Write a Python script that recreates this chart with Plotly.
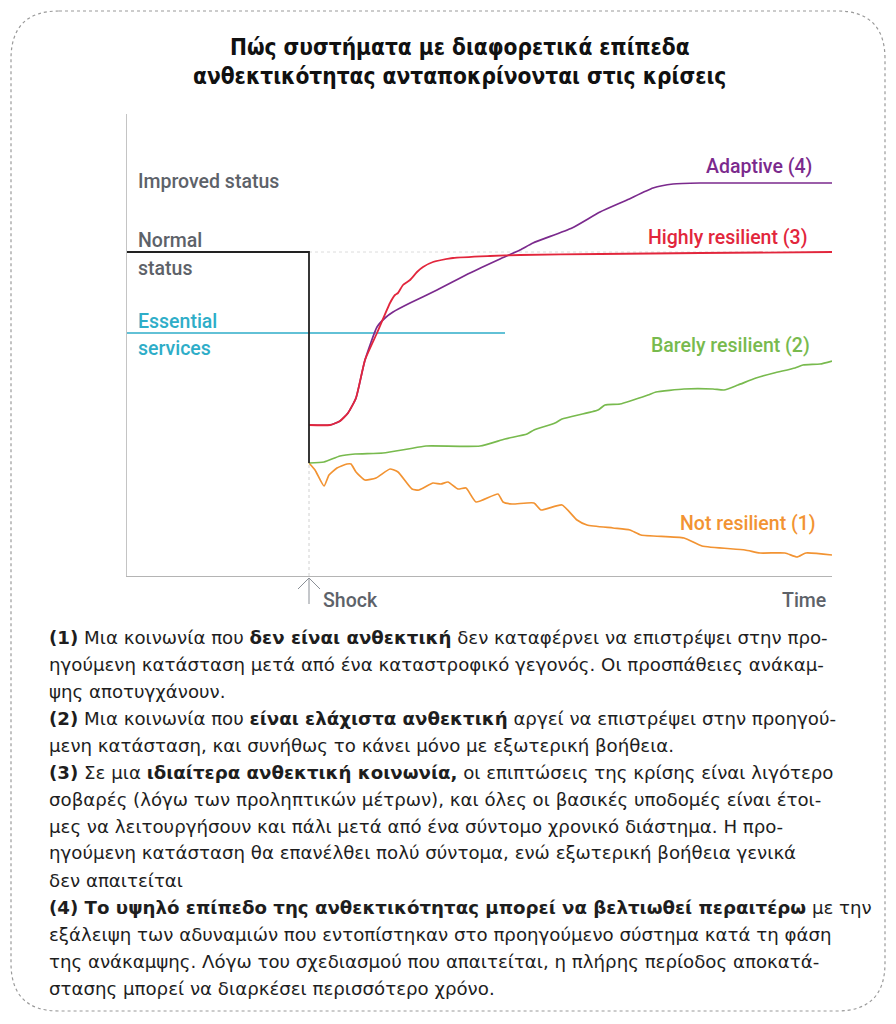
import plotly.graph_objects as go

# ---------------- data (arbitrary time / level units) ----------------
shock_t = 182
normal_level = 324
essential_level = 243
essential_end_t = 378
time_max = 705
level_max = 462

normal_t = [0, 182, 182]
normal_y = [324, 324, 113]

essential_t = [0, 378]
essential_y = [243, 243]

highly_t = [182, 203, 213, 221, 229, 238, 250, 263, 268, 271, 276, 283, 290, 296, 306, 326, 363, 393, 473, 573, 705]
highly_y = [151, 151, 155, 163, 178, 216, 243, 273, 281, 283, 291, 296, 304, 309, 314, 318, 320, 321, 322, 323, 324]

adaptive_t = [182, 203, 213, 221, 229, 238, 250, 258, 266, 283, 310, 343, 373, 393, 406, 445, 473, 500, 526, 546, 573, 705]
adaptive_y = [151, 151, 155, 163, 178, 216, 249, 258, 264, 273, 286, 303, 317, 326, 333, 348, 364, 376, 388, 392, 393, 393]

barely_t = [182, 197, 213, 228, 256, 281, 299, 353, 378, 400, 407, 428, 435, 471, 478, 493, 521, 529, 557, 586, 597, 611, 629, 647, 668, 676, 693, 705]
barely_y = [113, 114, 120, 122, 123, 127, 130, 130, 137, 142, 146, 153, 157, 166, 171, 172, 181, 184, 187, 187, 186, 191, 198, 203, 208, 211, 212, 215]

not_t = [182, 188, 197, 202, 210, 220, 224, 229, 238, 249, 263, 271, 285, 292, 306, 314, 321, 331, 339, 349, 371, 376, 385, 407, 414, 435, 450, 460, 486, 503, 514, 557, 575, 618, 633, 658, 670, 679, 705]
not_y = [113, 106, 90, 101, 108, 112, 112, 104, 96, 98, 107, 104, 87, 86, 93, 92, 94, 87, 88, 74, 82, 74, 72, 73, 66, 71, 56, 51, 48, 46, 41, 38, 30, 26, 23, 23, 19, 23, 21]

title_lines = ["Πώς συστήματα με διαφορετικά επίπεδα",
               "ανθεκτικότητας ανταποκρίνονται στις κρίσεις"]

text_lines = [
    "<b>(1)</b> Μια κοινωνία που <b>δεν είναι ανθεκτική</b> δεν καταφέρνει να επιστρέψει στην προ-",
    "ηγούμενη κατάσταση μετά από ένα καταστροφικό γεγονός. Οι προσπάθειες ανάκαμ-",
    "ψης αποτυγχάνουν.",
    "<b>(2)</b> Μια κοινωνία που <b>είναι ελάχιστα ανθεκτική</b> αργεί να επιστρέψει στην προηγού-",
    "μενη κατάσταση, και συνήθως το κάνει μόνο με εξωτερική βοήθεια.",
    "<b>(3)</b> Σε μια <b>ιδιαίτερα ανθεκτική κοινωνία,</b> οι επιπτώσεις της κρίσης είναι λιγότερο",
    "σοβαρές (λόγω των προληπτικών μέτρων), και όλες οι βασικές υποδομές είναι έτοι-",
    "μες να λειτουργήσουν και πάλι μετά από ένα σύντομο χρονικό διάστημα. Η προ-",
    "ηγούμενη κατάσταση θα επανέλθει πολύ σύντομα, ενώ εξωτερική βοήθεια γενικά",
    "δεν απαιτείται",
    "<b>(4) Το υψηλό επίπεδο της ανθεκτικότητας μπορεί να βελτιωθεί περαιτέρω</b> με την",
    "εξάλειψη των αδυναμιών που εντοπίστηκαν στο προηγούμενο σύστημα κατά τη φάση",
    "της ανάκαμψης. Λόγω του σχεδιασμού που απαιτείται, η πλήρης περίοδος αποκατά-",
    "στασης μπορεί να διαρκέσει περισσότερο χρόνο.",
]

# ---------------- styling ----------------
OFF = 8                      # page body margin of the browser
W, H = 896 - 2 * OFF, 1024 - 2 * OFF
PL, PR, PT, PB = 127, 832, 114, 576   # plot area in page pixels

def px(x):
    return (x - PL) / (PR - PL)

def py(y):
    return (PB - y) / (PB - PT)

PURPLE = "#7b2a8d"
RED = "#e2263c"
GREEN = "#78ba4e"
ORANGE = "#f29332"
TEAL = "#2eadc8"
GRAY_TXT = "#5d6269"
LABEL_FONT = "Roboto, Open Sans, sans-serif"
LS = 19.5

fig = go.Figure()

def add_line(t, y, color, width=1.6, shape="linear"):
    fig.add_trace(go.Scatter(x=t, y=y, mode="lines", hoverinfo="skip",
                             line=dict(color=color, width=width, shape=shape, smoothing=0.5)))

add_line(essential_t, essential_y, TEAL, 1.4)
add_line(not_t, not_y, ORANGE, 1.7, "spline")
add_line(barely_t, barely_y, GREEN, 1.7, "spline")
add_line(adaptive_t, adaptive_y, PURPLE, 1.7, "spline")
add_line(highly_t, highly_y, RED, 1.8, "spline")
add_line(normal_t, normal_y, "#222222", 1.8)

shapes = []
shapes.append(dict(type="line", xref="x", yref="y", x0=shock_t, x1=time_max, y0=normal_level, y1=normal_level,
                   line=dict(color="#dcdcdc", width=1, dash="dot"), layer="below"))
shapes.append(dict(type="line", xref="x", yref="y", x0=shock_t, x1=shock_t, y0=0, y1=113,
                   line=dict(color="#d0d0d0", width=1, dash="dot"), layer="below"))
shapes.append(dict(type="line", xref="paper", yref="paper", x0=px(309), x1=px(309), y0=py(578), y1=py(604),
                   line=dict(color="#8a8f96", width=1)))
shapes.append(dict(type="path", xref="paper", yref="paper",
                   path=f"M {px(298)},{py(589)} L {px(309)},{py(578)} L {px(320)},{py(589)}",
                   line=dict(color="#8a8f96", width=1)))
x0, y0, x1, y1, r = 11, 11, 885, 1011, 48
pts = (f"M {px(x0 + r)},{py(y0)} L {px(x1 - r)},{py(y0)} Q {px(x1)},{py(y0)} {px(x1)},{py(y0 + r)} "
       f"L {px(x1)},{py(y1 - r)} Q {px(x1)},{py(y1)} {px(x1 - r)},{py(y1)} "
       f"L {px(x0 + r)},{py(y1)} Q {px(x0)},{py(y1)} {px(x0)},{py(y1 - r)} "
       f"L {px(x0)},{py(y0 + r)} Q {px(x0)},{py(y0)} {px(x0 + r)},{py(y0)} Z")
shapes.append(dict(type="path", xref="paper", yref="paper", path=pts,
                   line=dict(color="#9a9a9a", width=1.2, dash="dot")))

ann = []

def text(x, y, s, color, size, xanchor="left", family=LABEL_FONT, weight=None):
    f = dict(color=color, size=size, family=family)
    if weight:
        f["weight"] = weight
    ann.append(dict(xref="paper", yref="paper", x=px(x), y=py(y), text=s, showarrow=False,
                    xanchor=xanchor, yanchor="middle", font=f))

TITLE_FONT = "Liberation Sans Narrow, DejaVu Sans Condensed, Arial Narrow, sans-serif"
text(460, 47, "<b>" + title_lines[0] + "</b>", "#111111", 22.5, "center", TITLE_FONT)
text(459, 76, "<b>" + title_lines[1] + "</b>", "#111111", 22.5, "center", TITLE_FONT)

text(136, 181, "Improved status", GRAY_TXT, LS, weight=500)
text(136, 240, "Normal", GRAY_TXT, LS, weight=500)
text(136, 268, "status", GRAY_TXT, LS, weight=500)
text(136, 321, "Essential", TEAL, LS, weight=500)
text(136, 348, "services", TEAL, LS, weight=500)

text(814, 166, "Adaptive (4)", PURPLE, LS, "right", weight=500)
text(809, 237, "Highly resilient (3)", RED, LS, "right", weight=500)
text(812, 345, "Barely resilient (2)", GREEN, LS, "right", weight=500)
text(818, 523, "Not resilient (1)", ORANGE, LS, "right", weight=500)

text(321, 600, "Shock", GRAY_TXT, LS, weight=500)
text(828, 600, "Time", GRAY_TXT, LS, "right", weight=500)

for i, line in enumerate(text_lines):
    text(47, 637 + i * 27.0, line, "#1e1e1e", 18.2, family="DejaVu Sans, Noto Sans, sans-serif")

fig.update_layout(
    width=W, height=H,
    margin=dict(l=PL - OFF, r=W - (PR - OFF), t=PT - OFF, b=H - (PB - OFF)),
    paper_bgcolor="white", plot_bgcolor="white",
    showlegend=False,
    xaxis=dict(range=[0, time_max], showgrid=False, zeroline=False, showticklabels=False, ticks="",
               showline=True, linecolor="#b4b4b4", linewidth=1, fixedrange=True),
    yaxis=dict(range=[0, level_max], showgrid=False, zeroline=False, showticklabels=False, ticks="",
               showline=True, linecolor="#c4c4c4", linewidth=1, fixedrange=True),
    shapes=shapes,
    annotations=ann,
)

fig.write_html("out.html")
